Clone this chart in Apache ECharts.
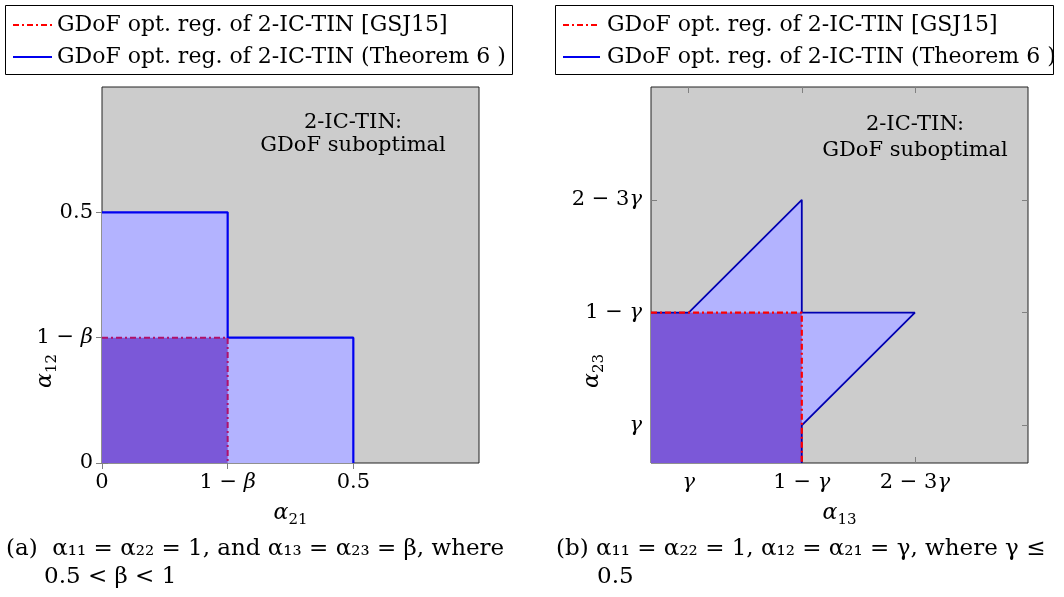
<!DOCTYPE html>
<html>
<head>
<meta charset="utf-8">
<title>GDoF regions</title>
<script src="https://cdn.jsdelivr.net/npm/echarts@6/dist/echarts.min.js"></script>
<style>
  html, body { margin: 0; padding: 0; background: #fff; }
  #main { width: 1064px; height: 597px; }
</style>
</head>
<body>
<div id="main"></div>
<script>
// ---- data: plot (a) ----
var aTickVals = [0, 0.25, 0.5];
var aTickLabels = ['0', '{n|1 − }{i|β}', '0.5'];
var aOuter = [[0, 0], [0.5, 0], [0.5, 0.25], [0.25, 0.25], [0.25, 0.5], [0, 0.5]];
var aInner = [[0, 0], [0.25, 0], [0.25, 0.25], [0, 0.25]];
var aBlue = [[0, 0.5], [0.25, 0.5], [0.25, 0.25], [0.5, 0.25], [0.5, 0]];
var aRed = [[0, 0.25], [0.25, 0.25], [0.25, 0]];

// ---- data: plot (b), gamma = 0.4 ----
var bMin = 1 / 3;
var bTickVals = [0.4, 0.6, 0.8];
var bTickLabels = ['{i|γ}', '{n|1 − }{i|γ}', '{n|2 − 3}{i|γ}'];
var bTri1 = [[0.4, 0.6], [0.6, 0.8], [0.6, 0.6]];
var bTri2 = [[0.6, 0.6], [0.8, 0.6], [0.6, 0.4]];
var bInner = [[bMin, bMin], [0.6, bMin], [0.6, 0.6], [bMin, 0.6]];
var bBlue = [[bMin, 0.6], [0.4, 0.6], [0.6, 0.8], [0.6, 0.6], [0.8, 0.6], [0.6, 0.4], [0.6, bMin]];
var bRed = [[bMin, 0.6], [0.6, 0.6], [0.6, bMin]];

var FONT = 'DejaVu Serif';
var rich = {
  n: { fontFamily: FONT, fontSize: 21, color: '#000' },
  i: { fontFamily: FONT, fontSize: 21, fontStyle: 'italic', color: '#000' },
  a: { fontFamily: FONT, fontSize: 22, fontStyle: 'italic', color: '#000', lineHeight: 30, verticalAlign: 'middle' },
  s: { fontFamily: FONT, fontSize: 15, color: '#000', lineHeight: 30, verticalAlign: 'bottom' }
};

function labelFmt(vals, labels) {
  return function (v) {
    for (var k = 0; k < vals.length; k++) {
      if (Math.abs(v - vals[k]) < 1e-6) return labels[k];
    }
    return '';
  };
}

function axis(gi, pos, min, max, vals, labels, name, extra) {
  var main = pos === 'bottom' || pos === 'left';
  var o = {
    type: 'value', gridIndex: gi, position: pos, min: min, max: max,
    splitLine: { show: false },
    axisLine: { show: false },
    axisTick: { show: true, inside: true, length: 6, customValues: vals,
                lineStyle: { color: '#808080', width: 1 } },
    axisLabel: { show: main, customValues: vals, formatter: labelFmt(vals, labels),
                 rich: rich, margin: 9, fontFamily: FONT, fontSize: 21, color: '#000' }
  };
  if (main && name) {
    o.name = '{a|α}{s|' + name + '}';
    o.nameLocation = 'middle';
    o.nameTextStyle = { rich: rich };
  }
  for (var k in extra) o[k] = extra[k];
  return o;
}

function poly(pts, color, xi, z) {
  return {
    type: 'custom', xAxisIndex: xi, yAxisIndex: xi, z: z, silent: true,
    data: [0],
    renderItem: function (params, api) {
      return {
        type: 'polygon',
        shape: { points: pts.map(function (p) { return api.coord(p); }) },
        style: { fill: color }
      };
    }
  };
}

function edge(pts, color, width, dash, xi, z) {
  return {
    type: 'line', xAxisIndex: xi, yAxisIndex: xi, z: z, silent: true,
    data: pts, showSymbol: false, symbol: 'none', clip: false,
    lineStyle: { color: color, width: width, type: dash || 'solid' }
  };
}

function txt(x, y, s, size, align) {
  return { type: 'text', x: x, y: y, z: 10, style: { text: s, font: size + 'px "DejaVu Serif"',
    fill: '#000', align: align || 'left', verticalAlign: 'middle' } };
}

// rotated y-axis title, placed where the reference has it
function ytitle(x, y, sub) {
  return { type: 'text', x: x, y: y, z: 10, rotation: Math.PI / 2,
    style: { text: '{a|α}{s|' + sub + '}', rich: rich, align: 'center', verticalAlign: 'middle' } };
}

var chart = echarts.init(document.getElementById('main'));
chart.setOption({
  animation: false,
  grid: [
    { left: 102, top: 87, width: 377, height: 376, show: true,
      backgroundColor: '#cccccc', borderColor: '#222', borderWidth: 1 },
    { left: 651, top: 87, width: 377, height: 376, show: true,
      backgroundColor: '#cccccc', borderColor: '#222', borderWidth: 1 }
  ],
  xAxis: [
    axis(0, 'bottom', 0, 0.75, aTickVals, aTickLabels, '21', { nameGap: 35 }),
    axis(1, 'bottom', bMin, 1, bTickVals, bTickLabels, '13', { nameGap: 35 }),
    axis(0, 'top', 0, 0.75, aTickVals, aTickLabels),
    axis(1, 'top', bMin, 1, bTickVals, bTickLabels)
  ],
  yAxis: [
    axis(0, 'left', 0, 0.75, aTickVals, aTickLabels),
    axis(1, 'left', bMin, 1, bTickVals, bTickLabels),
    axis(0, 'right', 0, 0.75, aTickVals, aTickLabels),
    axis(1, 'right', bMin, 1, bTickVals, bTickLabels)
  ],
  series: [
    poly(aOuter, '#b3b3ff', 0, 1),
    poly(aInner, '#7b58d8', 0, 2),
    edge(aBlue, '#0000f0', 2.2, null, 0, 3),
    edge(aRed, '#b0106a', 2, [6, 3, 2, 3], 0, 4),
    poly(bTri1, '#b3b3ff', 1, 1),
    poly(bTri2, '#b3b3ff', 1, 1),
    poly(bInner, '#7b58d8', 1, 2),
    edge(bBlue, '#0000b0', 1.8, null, 1, 3),
    edge(bRed, '#ff0000', 2.2, [6, 3, 2, 3], 1, 4)
  ],
  graphic: [
    // legend (a)
    { type: 'rect', shape: { x: 5.5, y: 5.5, width: 507, height: 69 },
      style: { fill: '#fff', stroke: '#000', lineWidth: 1 } },
    { type: 'line', shape: { x1: 13, y1: 25, x2: 52, y2: 25 },
      style: { stroke: '#ff0000', lineWidth: 2, lineDash: [6, 3, 2, 3] } },
    { type: 'line', shape: { x1: 13, y1: 57, x2: 52, y2: 57 },
      style: { stroke: '#0000ee', lineWidth: 2 } },
    txt(57, 25, 'GDoF opt. reg. of 2-IC-TIN [GSJ15]', 22),
    txt(57, 57, 'GDoF opt. reg. of 2-IC-TIN (Theorem 6 )', 22),
    // legend (b)
    { type: 'rect', shape: { x: 555.5, y: 5.5, width: 498, height: 69 },
      style: { fill: '#fff', stroke: '#000', lineWidth: 1 } },
    { type: 'line', shape: { x1: 563, y1: 25, x2: 600, y2: 25 },
      style: { stroke: '#ff0000', lineWidth: 2, lineDash: [6, 3, 2, 3] } },
    { type: 'line', shape: { x1: 563, y1: 57, x2: 600, y2: 57 },
      style: { stroke: '#0000ee', lineWidth: 2 } },
    txt(607, 25, 'GDoF opt. reg. of 2-IC-TIN [GSJ15]', 22),
    txt(607, 57, 'GDoF opt. reg. of 2-IC-TIN (Theorem 6 )', 22),
    // y-axis titles
    ytitle(45, 371, '12'),
    ytitle(592, 371, '23'),
    // annotations
    txt(353, 123, '2-IC-TIN:', 21, 'center'),
    txt(353, 146, 'GDoF suboptimal', 21, 'center'),
    txt(915, 125, '2-IC-TIN:', 21, 'center'),
    txt(915, 151, 'GDoF suboptimal', 21, 'center'),
    // captions
    txt(6, 549, '(a)  α₁₁ = α₂₂ = 1, and α₁₃ = α₂₃ = β, where', 23),
    txt(44, 577, '0.5 < β < 1', 23),
    txt(556, 549, '(b) α₁₁ = α₂₂ = 1, α₁₂ = α₂₁ = γ, where γ ≤', 23),
    txt(597, 577, '0.5', 23)
  ]
});
</script>
</body>
</html>
